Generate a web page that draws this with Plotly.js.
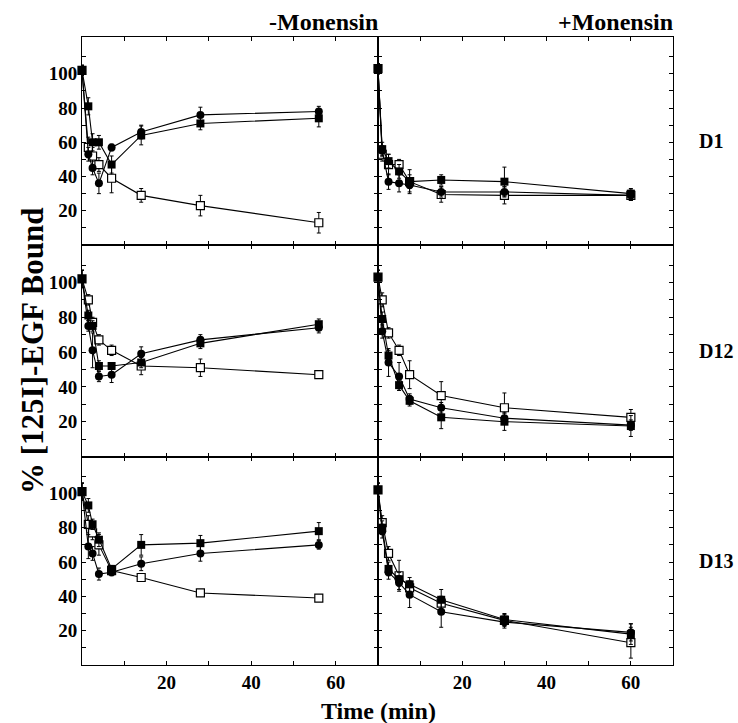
<!DOCTYPE html>
<html>
<head>
<meta charset="utf-8">
<script src="https://cdn.plot.ly/plotly-3.0.1.min.js"></script>
<style>html,body{margin:0;padding:0;background:#fff;}</style>
</head>
<body>
<div id="chart" style="width:738px;height:723px;"></div>
<script>
// ---- Data ----
const timesLeft  = [0, 1.5, 2.5, 4, 7, 14, 28, 56];
const timesRight = [0, 1, 2.5, 5, 7.5, 15, 30, 60];
const columnTitles = ['-Monensin', '+Monensin'];
const rowLabels = ['D1', 'D12', 'D13'];
const xTickVals = [20, 40, 60];
const yTickVals = [20, 40, 60, 80, 100];

// D1 -Monensin
const d1MinusCircle = [102, 53, 45, 36, 57, 66, 76, 78];
const d1MinusSquare = [102, 81, 60, 60, 47, 64, 71, 74];
const d1MinusOpen   = [102, 57, 52, 47, 39, 29, 23, 13];
const d1MinusCircleErr = [3, 4, 4, 6, 2, 4, 4.5, 3];
const d1MinusSquareErr = [3, 5, 5, 4, 5, 5.5, 3.7, 5];
const d1MinusOpenErr   = [3, 6, 5, 4, 8.5, 4, 6, 6];
// D1 +Monensin
const d1PlusCircle = [103, 55, 37, 36, 35, 31, 31, 29];
const d1PlusSquare = [103, 56, 49, 43, 37, 38, 37, 30];
const d1PlusOpen   = [103, 53, 47, 47, 37, 29.5, 29, 29];
const d1PlusCircleErr = [3, 3, 4.5, 5, 4, 3, 3, 3];
const d1PlusSquareErr = [3, 4, 4, 4, 4, 3, 8.5, 3];
const d1PlusOpenErr   = [3, 4, 6, 3, 7, 4.5, 5, 3];
// D12 -Monensin
const d12MinusCircle = [102, 75, 61, 46, 47, 59, 67, 74];
const d12MinusSquare = [102, 81, 75, 52, 52, 54, 65, 76];
const d12MinusOpen   = [102, 90, 77, 67, 61, 52, 51, 47];
const d12MinusCircleErr = [5, 3, 10, 3, 4.5, 4, 3, 3];
const d12MinusSquareErr = [5, 3, 3, 3, 2, 3, 3, 3];
const d12MinusOpenErr   = [5, 3, 3, 3, 3, 5, 5, 2];
// D12 +Monensin
const d12PlusCircle = [103, 72, 54, 46, 33, 28, 22, 18];
const d12PlusSquare = [103, 79, 58, 41, 32, 22.5, 20, 17.5];
const d12PlusOpen   = [103, 90, 71, 61, 47, 35, 28, 22.5];
const d12PlusCircleErr = [4, 4, 8, 8, 3, 3, 3, 3];
const d12PlusSquareErr = [4, 4, 3, 3, 3, 6.5, 5, 6];
const d12PlusOpenErr   = [4, 4, 3, 3, 8, 8, 8.5, 4.5];
// D13 -Monensin
const d13MinusCircle = [101, 69, 65, 53, 54, 59, 65, 70];
const d13MinusSquare = [101, 93, 82, 73, 56, 70, 71, 78];
const d13MinusOpen   = [101, 82, 77, 70, 55, 51, 42, 39];
const d13MinusCircleErr = [5, 7, 4, 3.5, 2, 4, 4.5, 2.5];
const d13MinusSquareErr = [5, 4, 3, 4, 2, 6, 4.5, 5];
const d13MinusOpenErr   = [5, 5, 4, 6, 2, 2, 1.5, 1.5];
// D13 +Monensin
const d13PlusCircle = [102, 78, 54, 48, 41, 31, 25, 19];
const d13PlusSquare = [102, 80, 56, 50, 47, 38, 26.5, 18];
const d13PlusOpen   = [102, 83, 65, 52, 45, 36, 26, 13];
const d13PlusCircleErr = [4, 4, 4, 4, 7.5, 9, 3.5, 5];
const d13PlusSquareErr = [4, 4, 4, 4, 4, 6, 3.5, 6];
const d13PlusOpenErr   = [4, 4, 4, 9, 4, 4, 3.5, 9];

const panels = [
  {t: timesLeft,  c: d1MinusCircle,  s: d1MinusSquare,  o: d1MinusOpen,  ce: d1MinusCircleErr,  se: d1MinusSquareErr,  oe: d1MinusOpenErr},
  {t: timesRight, c: d1PlusCircle,   s: d1PlusSquare,   o: d1PlusOpen,   ce: d1PlusCircleErr,   se: d1PlusSquareErr,   oe: d1PlusOpenErr},
  {t: timesLeft,  c: d12MinusCircle, s: d12MinusSquare, o: d12MinusOpen, ce: d12MinusCircleErr, se: d12MinusSquareErr, oe: d12MinusOpenErr},
  {t: timesRight, c: d12PlusCircle,  s: d12PlusSquare,  o: d12PlusOpen,  ce: d12PlusCircleErr,  se: d12PlusSquareErr,  oe: d12PlusOpenErr},
  {t: timesLeft,  c: d13MinusCircle, s: d13MinusSquare, o: d13MinusOpen, ce: d13MinusCircleErr, se: d13MinusSquareErr, oe: d13MinusOpenErr},
  {t: timesRight, c: d13PlusCircle,  s: d13PlusSquare,  o: d13PlusOpen,  ce: d13PlusCircleErr,  se: d13PlusSquareErr,  oe: d13PlusOpenErr}
];

// ---- Layout geometry (pixels -> paper) ----
const W = 738, H = 723;
const colPx = [[82, 378], [378, 673]];
const rowPx = [[37, 245], [245, 456.5], [456.5, 665]];
const FONT = 'Liberation Serif, Times New Roman, serif';

const traces = [];
const layout = {
  width: W, height: H,
  margin: {l: 0, r: 0, t: 0, b: 0},
  showlegend: false,
  paper_bgcolor: 'white', plot_bgcolor: 'white',
  font: {family: FONT, color: 'black'},
  annotations: []
};

function errObj(arr) {
  return {type: 'data', array: arr, visible: true, color: 'black', thickness: 1, width: 2};
}

panels.forEach((p, i) => {
  const n = i + 1;
  const row = Math.floor(i / 2), col = i % 2;
  const xa = 'x' + (n === 1 ? '' : n), ya = 'y' + (n === 1 ? '' : n);
  const lineStyle = {color: 'black', width: 1.1};
  traces.push({x: p.t, y: p.o, xaxis: xa, yaxis: ya, mode: 'lines+markers', line: lineStyle,
    marker: {symbol: 'square', size: 8, color: 'white', line: {color: 'black', width: 1.2}}, error_y: errObj(p.oe), cliponaxis: false});
  traces.push({x: p.t, y: p.s, xaxis: xa, yaxis: ya, mode: 'lines+markers', line: lineStyle,
    marker: {symbol: 'square', size: 8, color: 'black'}, error_y: errObj(p.se), cliponaxis: false});
  traces.push({x: p.t, y: p.c, xaxis: xa, yaxis: ya, mode: 'lines+markers', line: lineStyle,
    marker: {symbol: 'circle', size: 8, color: 'black'}, error_y: errObj(p.ce), cliponaxis: false});

  const xk = 'xaxis' + (n === 1 ? '' : n), yk = 'yaxis' + (n === 1 ? '' : n);
  layout[xk] = {
    domain: [colPx[col][0] / W, colPx[col][1] / W],
    anchor: ya, range: [0, 70],
    tickmode: 'array', tickvals: xTickVals, ticktext: xTickVals.map(String),
    showticklabels: row === 2,
    ticks: 'inside', ticklen: 4, tickwidth: 1, tickcolor: 'black',
    minor: {tickmode: 'array', tickvals: [10, 30, 50], ticks: 'inside', ticklen: 4, tickcolor: 'black'},
    showline: true, linecolor: 'black', linewidth: 1, mirror: 'allticks',
    showgrid: false, zeroline: false,
    tickfont: {family: FONT, size: 19, weight: 'bold', color: 'black'}
  };
  layout[yk] = {
    domain: [1 - rowPx[row][1] / H, 1 - rowPx[row][0] / H],
    anchor: xa, range: [0, 121.5],
    tickmode: 'array', tickvals: yTickVals, ticktext: yTickVals.map(String),
    showticklabels: col === 0,
    ticks: 'inside', ticklen: 4, tickwidth: 1, tickcolor: 'black',
    minor: {tickmode: 'array', tickvals: [10, 30, 50, 70, 90, 110], ticks: 'inside', ticklen: 4, tickcolor: 'black'},
    showline: true, linecolor: 'black', linewidth: 1, mirror: 'allticks',
    showgrid: false, zeroline: false,
    tickfont: {family: FONT, size: 19, weight: 'bold', color: 'black'}
  };
});

// Column titles
columnTitles.forEach((txt, c) => {
  layout.annotations.push({text: txt, xref: 'paper', yref: 'paper', x: (colPx[c][1] + 2) / W, y: 1 - 22 / H,
    xanchor: 'right', yanchor: 'middle', showarrow: false,
    font: {family: FONT, size: 24, weight: 'bold', color: 'black'}});
});
// Row labels
rowLabels.forEach((txt, r) => {
  const mid = (rowPx[r][0] + rowPx[r][1]) / 2;
  layout.annotations.push({text: txt, xref: 'paper', yref: 'paper', x: 697 / W, y: 1 - mid / H,
    xanchor: 'left', yanchor: 'middle', showarrow: false,
    font: {family: FONT, size: 20, weight: 'bold', color: 'black'}});
});
// Axis titles
layout.annotations.push({text: '% [125I]-EGF Bound', xref: 'paper', yref: 'paper', x: 32 / W, y: 1 - 351 / H,
  xanchor: 'center', yanchor: 'middle', textangle: -90, showarrow: false,
  font: {family: FONT, size: 31, weight: 'bold', color: 'black'}});
layout.annotations.push({text: 'Time (min)', xref: 'paper', yref: 'paper', x: 378 / W, y: 1 - 711 / H,
  xanchor: 'center', yanchor: 'middle', showarrow: false,
  font: {family: FONT, size: 24, weight: 'bold', color: 'black'}});

Plotly.newPlot('chart', traces, layout, {staticPlot: true, displayModeBar: false});
</script>
</body>
</html>
